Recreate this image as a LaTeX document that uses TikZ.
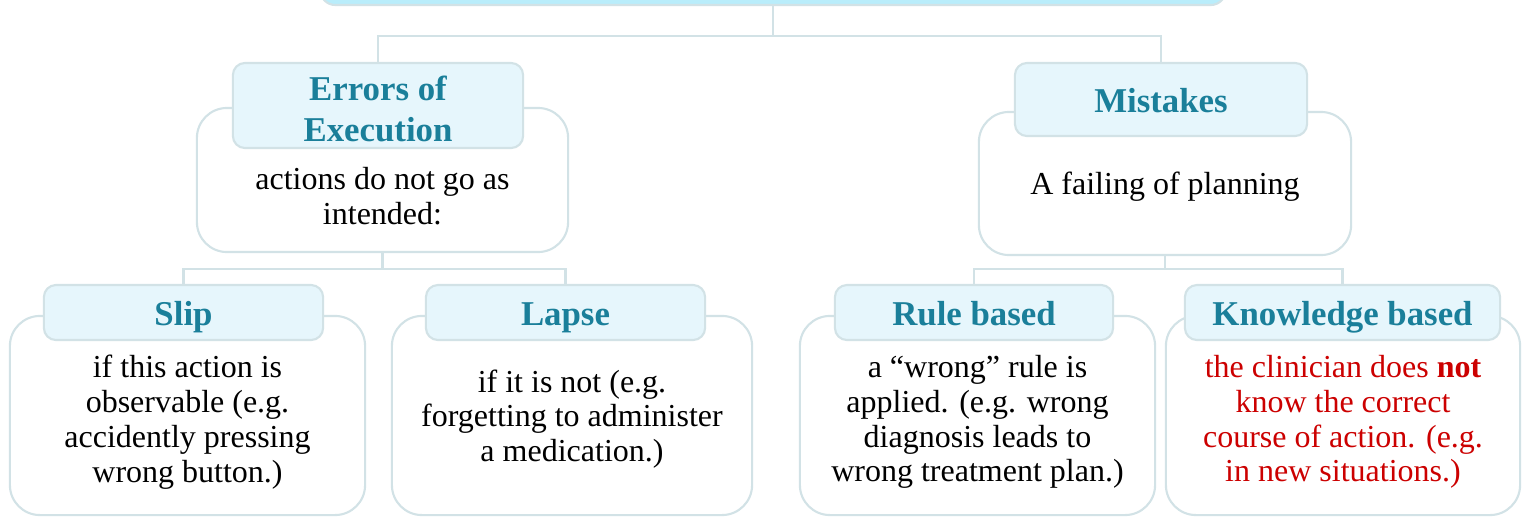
\documentclass[tikz,border=0pt]{standalone}
\usepackage{fontspec}
\setmainfont{Liberation Serif}
\usetikzlibrary{positioning}
\definecolor{lineGray}{HTML}{D2E2E6}
\definecolor{headFill}{HTML}{E6F6FC}
\definecolor{rootFill}{HTML}{B9EDFB}
\definecolor{headText}{HTML}{1A7F9A}
\definecolor{redText}{HTML}{CC0000}
\tikzset{
    cardbody/.style={draw=lineGray,line width=0.6pt,fill=white,rounded corners=0.3cm,inner sep=0pt},
    cardhead/.style={draw=lineGray,line width=0.6pt,fill=headFill,rounded corners=0.12cm,inner sep=0pt,
        text=headText,align=center,font=\fontsize{9.9}{11.7}\selectfont\bfseries},
    onehead/.style={cardhead,text height=9.3pt,text depth=2pt},
    cardtext/.style={align=center,inner sep=0pt,font=\fontsize{9.1}{9.9}\selectfont},
    link/.style={draw=lineGray,line width=0.6pt}
}
\newcommand{\cardBody}[4]{%
    \node[cardbody,minimum width=#3,minimum height=#4] (#1) at (#2) {};
}
\newcommand{\cardHead}[5]{%
    \node[onehead,minimum width=#3,minimum height=#4] (#1) at (#2) {#5};
}
\begin{document}
\begin{tikzpicture}[x=0.01cm,y=-0.01cm]
    \clip (0,0) rectangle (1530,518);
    %root
    \node[draw=lineGray,line width=0.6pt,fill=rootFill,rounded corners=0.15cm,
        minimum width=9.05cm,minimum height=0.5cm] (root) at (773,-20) {};
    %execution
    \cardBody{execBody}{382.5,180}{3.71cm}{1.44cm}
    \node[cardhead,minimum width=2.9cm,minimum height=0.85cm] (execHead) at (378,105.5)
        {\rule{0pt}{8.8pt}Errors of\\Execution};
    \node[cardtext] (execText) at (382.5,196) {actions do not go as\\intended:};
    %mistakes
    \cardBody{mistBody}{1165,183.5}{3.72cm}{1.43cm}
    \cardHead{mistHead}{1161,99.5}{2.92cm}{0.73cm}{Mistakes}
    \node[cardtext] (mistText) at (1165,187) {A failing of planning};
    %slip
    \cardBody{slipBody}{187.5,415.5}{3.55cm}{1.99cm}
    \cardHead{slipHead}{183.5,312.5}{2.79cm}{0.55cm}{Slip}
    \node[cardtext] (slipText) at (187.5,422) {if this action is\\observable (e.g.\\accidently pressing\\wrong button.)};
    %lapse
    \cardBody{lapseBody}{572,415.5}{3.6cm}{1.99cm}
    \cardHead{lapseHead}{565.5,312.5}{2.79cm}{0.55cm}{Lapse}
    \node[cardtext] (lapseText) at (572,419) {if it is not (e.g.\\forgetting to administer\\a medication.)};
    %rule
    \cardBody{ruleBody}{977.5,415.5}{3.55cm}{1.99cm}
    \cardHead{ruleHead}{974,312.5}{2.78cm}{0.55cm}{Rule based}
    \node[cardtext] (ruleText) at (977.5,422) {a ``wrong'' rule is\\applied. (e.g. wrong\\diagnosis leads to\\wrong treatment plan.)};
    %knowledge
    \cardBody{knowBody}{1343,415.5}{3.54cm}{1.99cm}
    \cardHead{knowHead}{1342.5,312.5}{3.15cm}{0.55cm}{Knowledge based}
    \node[cardtext,text=redText] (knowText) at (1343,422) {the clinician does \textbf{not}\\know the correct\\course of action. (e.g.\\in new situations.)};
    %links
    \draw[link] (root.south) -- ++(0,30) coordinate (rootFork);
    \draw[link] (rootFork) -| (execHead.north);
    \draw[link] (rootFork) -| (mistHead.north);
    \draw[link] (execBody.south) -- ++(0,16) coordinate (execFork);
    \draw[link] (execFork) -| (slipHead.north);
    \draw[link] (execFork) -| (lapseHead.north);
    \draw[link] (mistBody.south) -- ++(0,13) coordinate (mistFork);
    \draw[link] (mistFork) -| (ruleHead.north);
    \draw[link] (mistFork) -| (knowHead.north);
\end{tikzpicture}
\end{document}
